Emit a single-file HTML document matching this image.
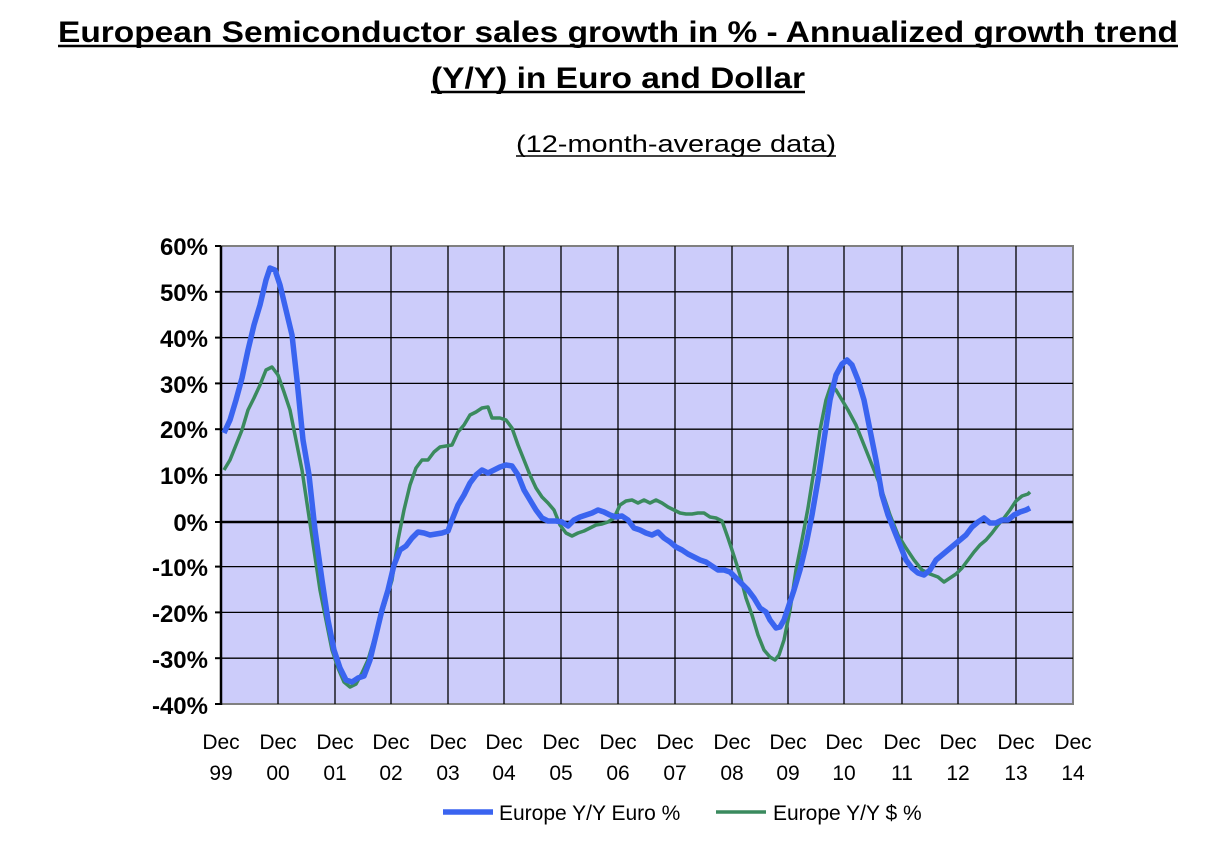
<!DOCTYPE html>
<html><head><meta charset="utf-8"><style>
body{margin:0;background:#fff;width:1230px;height:850px;overflow:hidden;font-family:"Liberation Sans",Arial,sans-serif}
</style></head><body>
<svg width="1230" height="850" xmlns="http://www.w3.org/2000/svg" font-family="Liberation Sans, Arial, sans-serif">
<text x="58" y="42" font-size="30" font-weight="bold" textLength="1120" lengthAdjust="spacingAndGlyphs">European Semiconductor sales growth in % - Annualized growth trend</text>
<line x1="58" y1="46" x2="1178" y2="46" stroke="#000" stroke-width="2.5"/>
<text x="431" y="88" font-size="30" font-weight="bold" textLength="374" lengthAdjust="spacingAndGlyphs">(Y/Y) in Euro and Dollar</text>
<line x1="431" y1="92" x2="805" y2="92" stroke="#000" stroke-width="2.5"/>
<text x="516" y="152" font-size="24" textLength="320" lengthAdjust="spacingAndGlyphs"> (12-month-average data)</text>
<line x1="516" y1="156" x2="836" y2="156" stroke="#000" stroke-width="1.5"/>
<rect x="221" y="246" width="852" height="458" fill="#ccccfa" stroke="#808080" stroke-width="2"/>
<g stroke="#000" stroke-width="1.3">
<line x1="221" y1="291.8" x2="1073" y2="291.8"/><line x1="221" y1="337.6" x2="1073" y2="337.6"/><line x1="221" y1="383.4" x2="1073" y2="383.4"/><line x1="221" y1="429.2" x2="1073" y2="429.2"/><line x1="221" y1="475" x2="1073" y2="475"/><line x1="221" y1="566.6" x2="1073" y2="566.6"/><line x1="221" y1="612.4" x2="1073" y2="612.4"/><line x1="221" y1="658.2" x2="1073" y2="658.2"/>
<line x1="278" y1="246" x2="278" y2="704"/><line x1="335" y1="246" x2="335" y2="704"/><line x1="391" y1="246" x2="391" y2="704"/><line x1="448" y1="246" x2="448" y2="704"/><line x1="504" y1="246" x2="504" y2="704"/><line x1="561" y1="246" x2="561" y2="704"/><line x1="618" y1="246" x2="618" y2="704"/><line x1="675" y1="246" x2="675" y2="704"/><line x1="732" y1="246" x2="732" y2="704"/><line x1="788" y1="246" x2="788" y2="704"/><line x1="844" y1="246" x2="844" y2="704"/><line x1="902" y1="246" x2="902" y2="704"/><line x1="958" y1="246" x2="958" y2="704"/><line x1="1016" y1="246" x2="1016" y2="704"/>
</g>
<line x1="221" y1="522" x2="1073" y2="522" stroke="#000" stroke-width="2.5"/>
<line x1="221" y1="246" x2="221" y2="705" stroke="#000" stroke-width="2.5"/>
<g stroke="#000" stroke-width="2"><line x1="215" y1="246" x2="221" y2="246"/><line x1="215" y1="291.8" x2="221" y2="291.8"/><line x1="215" y1="337.6" x2="221" y2="337.6"/><line x1="215" y1="383.4" x2="221" y2="383.4"/><line x1="215" y1="429.2" x2="221" y2="429.2"/><line x1="215" y1="475" x2="221" y2="475"/><line x1="215" y1="522" x2="221" y2="522"/><line x1="215" y1="566.6" x2="221" y2="566.6"/><line x1="215" y1="612.4" x2="221" y2="612.4"/><line x1="215" y1="658.2" x2="221" y2="658.2"/><line x1="215" y1="704" x2="221" y2="704"/></g>
<g font-size="24" font-weight="bold" text-anchor="end">
<text x="208" y="255">60%</text><text x="208" y="301">50%</text><text x="208" y="347">40%</text><text x="208" y="393">30%</text><text x="208" y="438">20%</text><text x="208" y="484">10%</text><text x="208" y="531">0%</text><text x="208" y="576">-10%</text><text x="208" y="622">-20%</text><text x="208" y="668">-30%</text><text x="208" y="714">-40%</text>
</g>
<g font-size="21" text-anchor="middle">
<text x="221" y="749">Dec</text><text x="221" y="780">99</text>
<text x="278" y="749">Dec</text><text x="278" y="780">00</text>
<text x="335" y="749">Dec</text><text x="335" y="780">01</text>
<text x="391" y="749">Dec</text><text x="391" y="780">02</text>
<text x="448" y="749">Dec</text><text x="448" y="780">03</text>
<text x="504" y="749">Dec</text><text x="504" y="780">04</text>
<text x="561" y="749">Dec</text><text x="561" y="780">05</text>
<text x="618" y="749">Dec</text><text x="618" y="780">06</text>
<text x="675" y="749">Dec</text><text x="675" y="780">07</text>
<text x="732" y="749">Dec</text><text x="732" y="780">08</text>
<text x="788" y="749">Dec</text><text x="788" y="780">09</text>
<text x="844" y="749">Dec</text><text x="844" y="780">10</text>
<text x="902" y="749">Dec</text><text x="902" y="780">11</text>
<text x="958" y="749">Dec</text><text x="958" y="780">12</text>
<text x="1016" y="749">Dec</text><text x="1016" y="780">13</text>
<text x="1073" y="749">Dec</text><text x="1073" y="780">14</text>
</g>
<polyline fill="none" stroke="#3a8a5e" stroke-width="3.5" stroke-linejoin="round" points="224,470 230,460 236,445 242,430 248,410 254,398 260,385 266,370 272,367 278,375 284,392 290,410 296,440 302,470 308,510 314,550 320,590 326,620 332,650 338,668 344,682 350,687 356,684 362,673 368,660 374,640 380,620 386,600 392,580 398,540 404,510 410,485 416,468 422,460 428,460 434,452 440,447 446,446 452,445 458,432 464,425 470,415 476,412 482,408 488,407 492,418 500,418 506,420 512,428 518,445 524,460 530,475 536,488 542,497 548,503 554,510 560,525 566,533 572,536 578,533 584,531 590,528 596,525 602,524 608,522 614,518 620,505 626,501 632,500 638,503 644,500 650,503 656,500 662,503 668,507 674,510 680,513 686,514 692,514 698,513 704,513 710,517 716,518 722,521 728,538 734,556 740,575 746,598 752,615 758,635 764,650 770,657 775,660 779,655 784,640 790,610 796,570 802,540 808,508 814,470 820,430 826,400 831,385 836,390 842,400 848,410 856,425 864,445 872,465 880,485 890,515 898,535 906,548 914,560 922,570 930,574 938,577 944,582 950,578 956,574 962,568 968,560 974,552 980,545 986,540 992,533 998,525 1004,518 1010,510 1016,501 1022,496 1028,494 1030,492"/>
<polyline fill="none" stroke="#3a64f0" stroke-width="5.5" stroke-linejoin="round" points="224,433 230,420 236,400 242,378 248,350 254,325 260,305 266,280 270,268 275,270 280,285 286,310 292,335 297,380 303,440 309,475 315,530 322,580 328,620 334,650 340,668 346,680 352,682 358,678 364,676 370,660 376,635 382,610 388,590 394,565 400,550 406,546 412,538 418,532 424,533 430,535 436,534 442,533 448,531 452,520 458,505 464,495 470,483 476,475 482,470 488,473 494,470 500,467 506,465 512,466 518,475 524,490 530,500 536,510 542,518 548,521 556,521 562,522 568,526 574,520 580,517 586,515 592,513 598,510 604,512 610,515 616,517 622,516 628,520 634,528 640,530 646,533 652,535 658,532 664,538 670,542 676,547 682,550 688,554 694,557 700,560 706,562 712,566 718,570 724,570 730,572 736,578 742,584 748,590 754,598 760,608 766,612 770,620 776,628 780,627 784,620 788,608 794,590 800,570 806,545 812,515 818,480 824,440 830,400 836,375 842,364 847,360 852,365 858,380 864,400 870,430 876,460 882,495 888,515 894,530 900,545 906,560 912,568 918,573 924,575 930,570 936,560 942,555 948,550 954,545 960,540 966,535 972,527 978,522 984,518 990,523 996,523 1002,520 1008,520 1014,515 1020,512 1026,510 1030,508"/>
<line x1="443" y1="812" x2="493" y2="812" stroke="#3a64f0" stroke-width="5.5"/>
<text x="499" y="820" font-size="21">Europe Y/Y Euro %</text>
<line x1="716" y1="812" x2="766" y2="812" stroke="#3a8a5e" stroke-width="3.5"/>
<text x="773" y="820" font-size="21">Europe Y/Y $ %</text>
</svg>
</body></html>
